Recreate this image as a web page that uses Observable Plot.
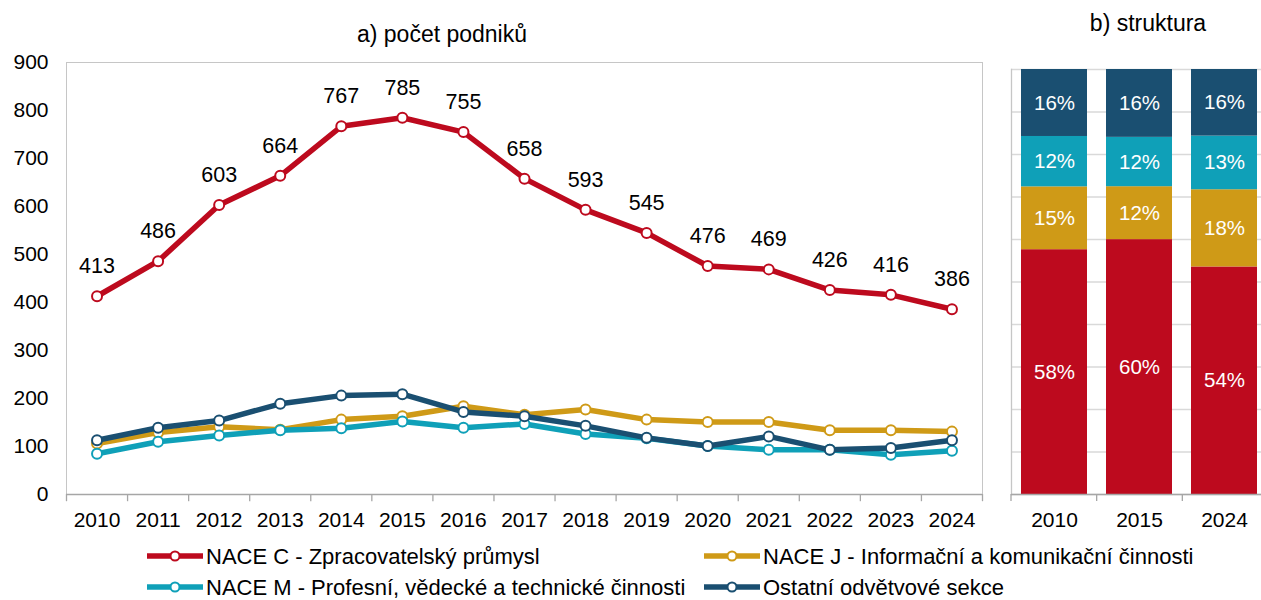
<!DOCTYPE html>
<html><head><meta charset="utf-8">
<script src="https://cdn.jsdelivr.net/npm/d3@7"></script>
<script src="https://cdn.jsdelivr.net/npm/@observablehq/plot@0.6"></script>
<style>
html,body{margin:0;padding:0;background:#fff;overflow:hidden;}
#wrap{position:relative;width:1261px;height:600px;overflow:hidden;font-family:"Liberation Sans",Arial,sans-serif;}
.title{position:absolute;font-size:23px;color:#000;white-space:nowrap;transform:translate(-50%,-50%);}
#left{position:absolute;left:0;top:0;width:990px;}
#right{position:absolute;left:990px;top:0;width:278px;}
#left svg,#right svg{max-width:none !important;}
#legend{position:absolute;left:0;top:535px;}
</style></head><body>
<div id="wrap">
 <div class="title" style="left:442px;top:34px">a) počet podniků</div>
 <div class="title" style="left:1148px;top:23px">b) struktura</div>
 <div id="left"></div>
 <div id="right"></div>
 <svg id="legend" width="1261" height="65"></svg>
</div>
<script>
// ---- data ----
const years = [2010,2011,2012,2013,2014,2015,2016,2017,2018,2019,2020,2021,2022,2023,2024];
const seriesNames = [
  "NACE C - Zpracovatelský průmysl",
  "NACE J - Informační a komunikační činnosti",
  "NACE M - Profesní, vědecké a technické činnosti",
  "Ostatní odvětvové sekce"
];
const valuesC = [413,486,603,664,767,785,755,658,593,545,476,469,426,416,386];
const valuesJ = [106,129,141,135,156,163,184,166,177,156,151,151,134,134,131];
const valuesM = [85,110,123,134,138,152,139,147,126,117,101,93,93,83,91];
const valuesO = [113,139,154,189,206,209,172,163,143,118,101,121,93,97,113];
const structureYears = [2010,2015,2024];
const yTicks = [0,100,200,300,400,500,600,700,800,900];
const seriesColors = ["#BD0A1E","#CF9A17","#0FA0B8","#1A4F71"];

const FONT = '"Liberation Sans",Arial,sans-serif';
const allValues = [valuesC, valuesJ, valuesM, valuesO];
const rows = seriesNames.flatMap((name, si) =>
  years.map((yr, i) => ({year: yr, value: allValues[si][i], series: name})));

// ---- left panel ----
const lineMarks = seriesNames.flatMap((name, si) => {
  const d = rows.filter(r => r.series === name);
  return [
    Plot.line(d, {x: "year", y: "value", stroke: seriesColors[si], strokeWidth: 5.5, strokeLinejoin: "round"}),
    Plot.dot(d, {x: "year", y: "value", r: 5, fill: "white", stroke: seriesColors[si], strokeWidth: 2})
  ];
});
const left = Plot.plot({
  width: 990, height: 540,
  marginLeft: 66, marginRight: 8, marginTop: 62, marginBottom: 46,
  x: {domain: [years[0] - 0.5, years[years.length - 1] + 0.5], label: null},
  y: {domain: [0, 900], label: null},
  style: {fontFamily: FONT, color: "#000", background: "transparent", overflow: "visible", maxWidth: "none"},
  marks: [
    Plot.frame({stroke: "#c6c6c6"}),
    Plot.ruleX(years.map(y => y - 0.5).concat([years[years.length - 1] + 0.5]), {y1: 0, y2: -15, stroke: "#a6a6a6", strokeWidth: 1.3}),
    Plot.ruleY([0], {stroke: "#a6a6a6", strokeWidth: 1.5}),
    ...lineMarks,
    Plot.text(rows.filter(r => r.series === seriesNames[0]), {x: "year", y: "value", text: d => String(d.value), dy: -30, fontSize: 21.5, fill: "#000"}),
    Plot.axisY({ticks: yTicks, tickSize: 0, tickPadding: 18, fontSize: 21, tickFormat: d => String(d), label: null}),
    Plot.axisX({ticks: years, tickSize: 0, tickPadding: 18, fontSize: 21, tickFormat: d => String(d), label: null})
  ]
});
document.getElementById("left").appendChild(left);

// ---- right panel ----
const shareRows = structureYears.flatMap(yr => {
  const i = years.indexOf(yr);
  const total = d3.sum(allValues, v => v[i]);
  return seriesNames.map((name, si) => ({year: String(yr), series: name, value: allValues[si][i], share: allValues[si][i] / total}));
});
const right = Plot.plot({
  width: 278, height: 540,
  marginLeft: 21, marginRight: 0, marginTop: 69, marginBottom: 46,
  x: {domain: structureYears.map(String), paddingInner: 0.22, paddingOuter: 0.11, label: null},
  y: {domain: [0, 1], label: null, axis: null},
  color: {domain: seriesNames, range: seriesColors},
  style: {fontFamily: FONT, color: "#000", background: "transparent", overflow: "visible", maxWidth: "none"},
  marks: [
    Plot.gridY({ticks: d3.range(0, 11).map(k => k / 10), stroke: "#d9d9d9", strokeOpacity: 1, strokeWidth: 1.3}),
    Plot.frame({anchor: "left", stroke: "#c6c6c6", strokeWidth: 1.3}),
    Plot.barY(shareRows, Plot.stackY({x: "year", y: "value", fill: "series", offset: "normalize"})),
    Plot.text(shareRows, Plot.stackY({x: "year", y: "value", offset: "normalize", text: d => Math.round(d.share * 100) + "%", fill: "white", fontSize: 20.5})),
    Plot.ruleY([0], {stroke: "#a6a6a6", strokeWidth: 1.5}),
    (index, scales, values, dims) => {
      const g = d3.create("svg:g").attr("stroke", "#a6a6a6").attr("stroke-width", 1.3);
      const n = structureYears.length;
      const step = (dims.width - dims.marginLeft - dims.marginRight) / n;
      const y0 = scales.y(0);
      for (let k = 0; k <= n; k++) {
        const xx = dims.marginLeft + k * step;
        g.append("line").attr("x1", xx).attr("x2", xx).attr("y1", y0).attr("y2", y0 + 7);
      }
      return g.node();
    },
    Plot.axisX({tickSize: 0, tickPadding: 18, fontSize: 21, label: null})
  ]
});
document.getElementById("right").appendChild(right);

// ---- legend ----
const leg = d3.select("#legend");
const legPos = [[147, 21], [704, 21], [147, 52], [704, 52]];
seriesNames.forEach((name, si) => {
  const [lx, ly] = legPos[si];
  const g = leg.append("g").attr("transform", `translate(${lx},${ly})`);
  g.append("line").attr("x1", 0).attr("x2", 56).attr("y1", 0).attr("y2", 0).attr("stroke", seriesColors[si]).attr("stroke-width", 5.5);
  g.append("circle").attr("cx", 28).attr("cy", 0).attr("r", 4.5).attr("fill", "white").attr("stroke", seriesColors[si]).attr("stroke-width", 2);
  g.append("text").attr("x", 59).attr("y", 0).attr("dy", "0.35em").attr("font-family", FONT).attr("font-size", 22).attr("fill", "#000").text(name);
});
</script>
</body></html>
